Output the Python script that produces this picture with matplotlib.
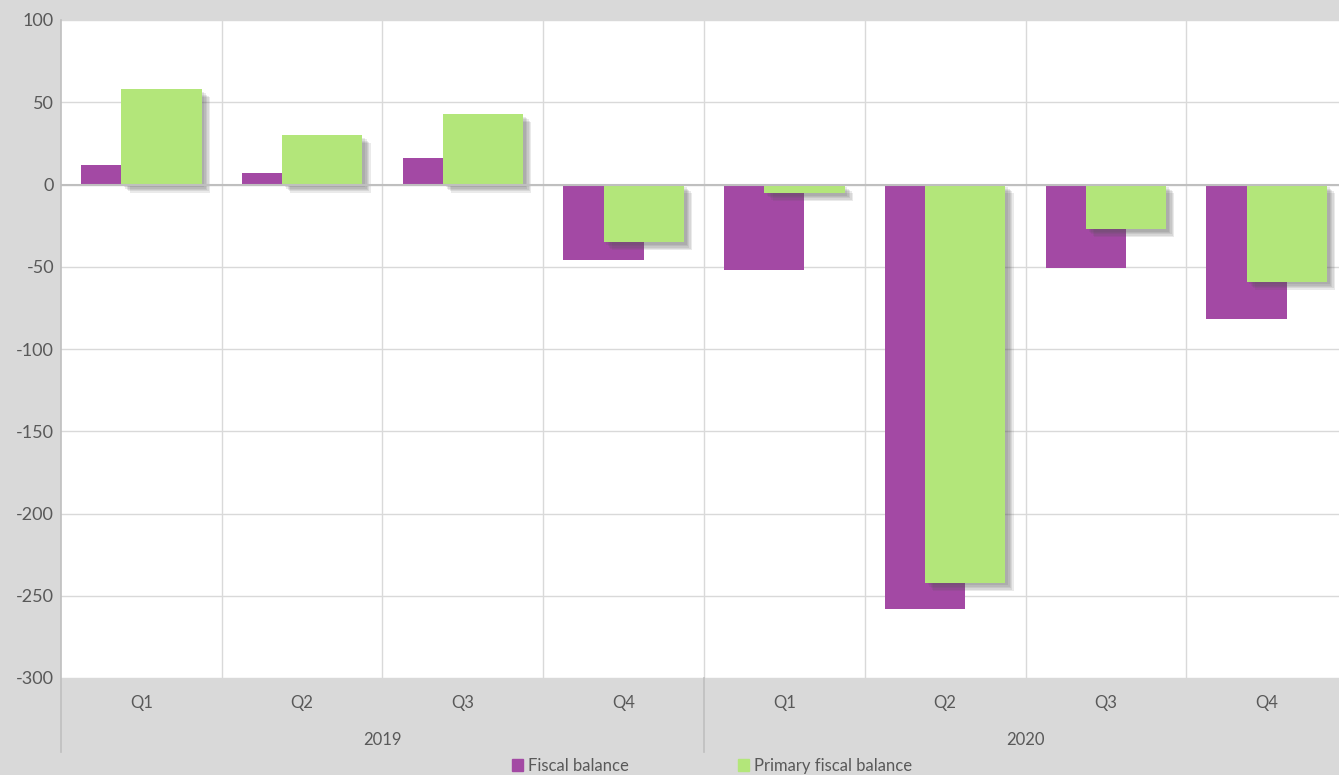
import numpy as np
import matplotlib.pyplot as plt
import matplotlib.patheffects as pe
import matplotlib.transforms as mtransforms
from matplotlib.patches import Patch

quarters = ["Q1", "Q2", "Q3", "Q4", "Q1", "Q2", "Q3", "Q4"]
years = ["2019", "2020"]
fiscal = [12, 7, 16, -46, -52, -258, -51, -82]
primary = [58, 30, 43, -35, -5, -242, -27, -59]

purple = "#a349a4"
green = "#b3e67a"
grey_txt = "#595959"
bg = "#d9d9d9"

plt.rcParams["font.family"] = ["Lato", "DejaVu Sans"]
plt.rcParams["axes.unicode_minus"] = False

W, H = 1339, 775
fig = plt.figure(figsize=(W / 100, H / 100), dpi=100, facecolor=bg)
# plot area runs slightly past the right edge of the picture, as in the original
ax = fig.add_axes([61 / W, (H - 678) / H, 1286 / W, 658 / H])
ax.set_facecolor("white")

x = np.arange(len(quarters))
ax.bar(x - 0.125, fiscal, width=0.5, color=purple, zorder=3)
# soft drop shadow: a few stacked offsets
shadow = [pe.SimplePatchShadow(offset=(o, -o), shadow_rgbFace="#555555", alpha=0.12)
          for o in (6, 5, 4, 3, 2)] + [pe.Normal()]
ax.bar(x + 0.125, primary, width=0.5, color=green, zorder=4, path_effects=shadow)

ax.set_xlim(-0.5, 7.5)
ax.set_ylim(-300, 100)
ax.set_yticks(np.arange(-300, 101, 50))
ax.tick_params(axis="y", length=0, pad=5, labelsize=13, labelcolor=grey_txt)
ax.set_xticks([])
ax.set_xticks(np.arange(0.5, 7.5, 1), minor=True)
ax.tick_params(axis="x", which="both", length=0)
ax.grid(True, axis="y", color="#d9d9d9", lw=1, zorder=0)
ax.grid(True, axis="x", which="minor", color="#d9d9d9", lw=1, zorder=0)
ax.axhline(0, color="#bfbfbf", lw=1.5, zorder=5)

for s in ["top", "right", "bottom", "left"]:
    ax.spines[s].set_visible(False)

# axis line on the left and year separator, running down through the label area
ext = (678 - 752) / 658
ax.axvline(-0.5, ymin=ext, ymax=1, color="#bfbfbf", lw=1.2, clip_on=False, zorder=6)
ax.axvline(3.5, ymin=ext, ymax=0, color="#bfbfbf", lw=1.2, clip_on=False, zorder=6)

trans = mtransforms.blended_transform_factory(ax.transData, ax.transAxes)
for i, q in enumerate(quarters):
    ax.text(i, (678 - 703) / 658, q, transform=trans, ha="center", va="center",
            fontsize=12, color=grey_txt)
for j, yr in enumerate(years):
    ax.text(1.5 + 4 * j, (678 - 740) / 658, yr, transform=trans, ha="center", va="center",
            fontsize=12, color=grey_txt)

handles = [Patch(color=purple, label="Fiscal balance"),
           Patch(color=green, label="Primary fiscal balance")]
fig.legend(handles=handles, loc="center", bbox_to_anchor=(712 / W, 1 - 766 / H), ncol=2,
           frameon=False, fontsize=12, labelcolor=grey_txt, handlelength=0.7,
           handleheight=0.7, handletextpad=0.3, columnspacing=6.5)

fig.savefig("out.png", dpi=100, facecolor=bg)
